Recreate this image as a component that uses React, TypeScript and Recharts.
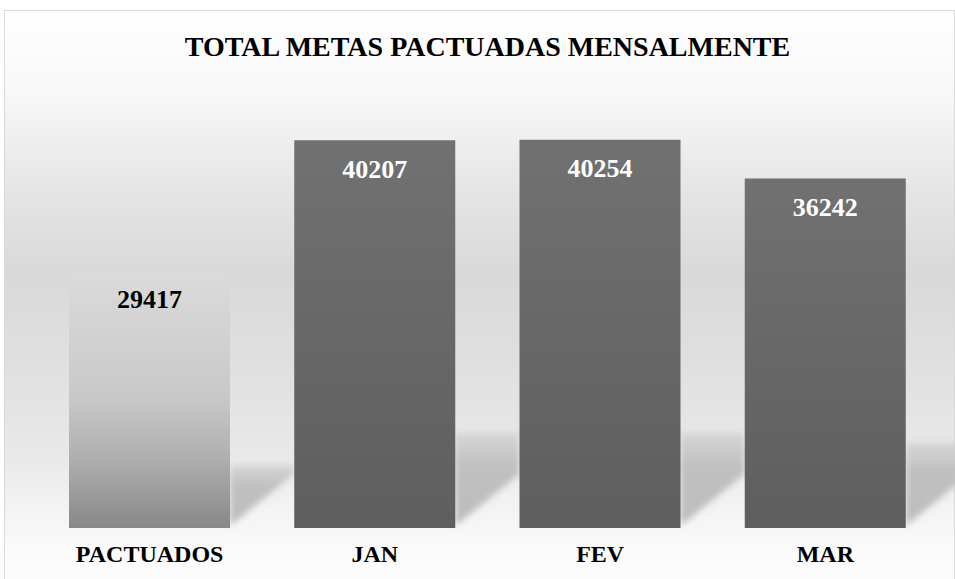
import { Bar, BarChart, LabelList, XAxis, YAxis } from "recharts";

const CATEGORIES = ["PACTUADOS", "JAN", "FEV", "MAR"];
const PACTUADO_VALUES = [29417, null, null, null];
const MENSAL_VALUES = [null, 40207, 40254, 36242];

const CHART_DATA = CATEGORIES.map((name, i) => ({
  name,
  pactuado: PACTUADO_VALUES[i],
  mensal: MENSAL_VALUES[i],
}));

const FONT = '"Liberation Serif", "Times New Roman", serif';
const BAR_SIZE = 161;

// bar with a soft floor shadow cast to its right
function ShadowBar(props: any) {
  const { x, y, width, height, fill, index } = props;
  if (!height || height <= 0) return null;
  const bottom = y + height;
  const xr = x + width;
  const w = index === CATEGORIES.length - 1 ? 34 : 64;
  const top = bottom - height * 0.245;
  const pts = [
    [xr, top],
    [xr + w, top],
    [xr + w, bottom - 6 - 0.75 * w],
    [xr, bottom - 2],
  ]
    .map((p) => p.join(","))
    .join(" ");
  return (
    <g>
      <polygon points={pts} fill="url(#gShadow)" filter="url(#softShadow)" />
      <rect x={x} y={y} width={width} height={height} fill={fill} />
    </g>
  );
}

export default function App() {
  return (
    <div
      style={{
        position: "absolute",
        left: 0,
        top: 0,
        width: 955,
        height: 579,
        background: "#ffffff",
        overflow: "hidden",
      }}
    >
      <div
        style={{
          position: "absolute",
          left: 4,
          top: 10,
          width: 949,
          height: 580,
          border: "1px solid #d9d9d9",
          background:
            "linear-gradient(to bottom, #ffffff 0%, #f8f8f8 14%, #e6e6e6 30%, #d9d9d9 45%, #e0e0e0 62%, #eaeaea 78%, #fafafa 92%, #fdfdfd 100%)",
        }}
      />
      <div
        style={{
          position: "absolute",
          left: 12,
          top: 31,
          width: 951,
          textAlign: "center",
          fontFamily: FONT,
          fontWeight: "bold",
          fontSize: 28,
          lineHeight: "32px",
          color: "#000",
        }}
      >
        TOTAL METAS PACTUADAS MENSALMENTE
      </div>
      <div style={{ position: "absolute", left: 0, top: 0 }}>
        <BarChart
          width={955}
          height={579}
          data={CHART_DATA}
          margin={{ top: 94, right: 17, left: 37, bottom: 21 }}
          barGap={-BAR_SIZE}
        >
          <defs>
            <linearGradient id="gLight" x1="0" y1="0" x2="0" y2="1">
              <stop offset="0%" stopColor="#dbdbdb" />
              <stop offset="50%" stopColor="#c8c8c8" />
              <stop offset="72%" stopColor="#b0b0b0" />
              <stop offset="100%" stopColor="#888888" />
            </linearGradient>
            <linearGradient id="gDark" x1="0" y1="0" x2="0" y2="1">
              <stop offset="0%" stopColor="#717171" />
              <stop offset="100%" stopColor="#5e5e5e" />
            </linearGradient>
            <linearGradient id="gShadow" x1="0" y1="0" x2="0" y2="1">
              <stop offset="0%" stopColor="#d6d6d6" />
              <stop offset="35%" stopColor="#c0c0c0" />
              <stop offset="100%" stopColor="#bdbdbd" />
            </linearGradient>
            <filter id="softShadow" x="-20%" y="-20%" width="140%" height="140%">
              <feGaussianBlur stdDeviation="3" />
            </filter>
          </defs>
          <XAxis
            dataKey="name"
            axisLine={false}
            tickLine={false}
            height={30}
            tick={{
              fill: "#000",
              fontSize: 24,
              fontFamily: FONT,
              fontWeight: "bold",
            }}
            tickMargin={11}
          />
          <YAxis yAxisId="left" hide domain={[0, 45000]} />
          <YAxis yAxisId="right" hide orientation="right" domain={[0, 49600]} />
          <Bar
            yAxisId="right"
            dataKey="pactuado"
            barSize={BAR_SIZE}
            fill="url(#gLight)"
            shape={<ShadowBar />}
            isAnimationActive={false}
          >
            <LabelList
              dataKey="pactuado"
              position="insideTop"
              offset={19}
              fill="#000"
              style={{ fontSize: 26, fontFamily: FONT, fontWeight: "bold" }}
            />
          </Bar>
          <Bar
            yAxisId="left"
            dataKey="mensal"
            barSize={BAR_SIZE}
            fill="url(#gDark)"
            shape={<ShadowBar />}
            isAnimationActive={false}
          >
            <LabelList
              dataKey="mensal"
              position="insideTop"
              offset={19}
              fill="#fff"
              style={{ fontSize: 26, fontFamily: FONT, fontWeight: "bold" }}
            />
          </Bar>
        </BarChart>
      </div>
    </div>
  );
}
